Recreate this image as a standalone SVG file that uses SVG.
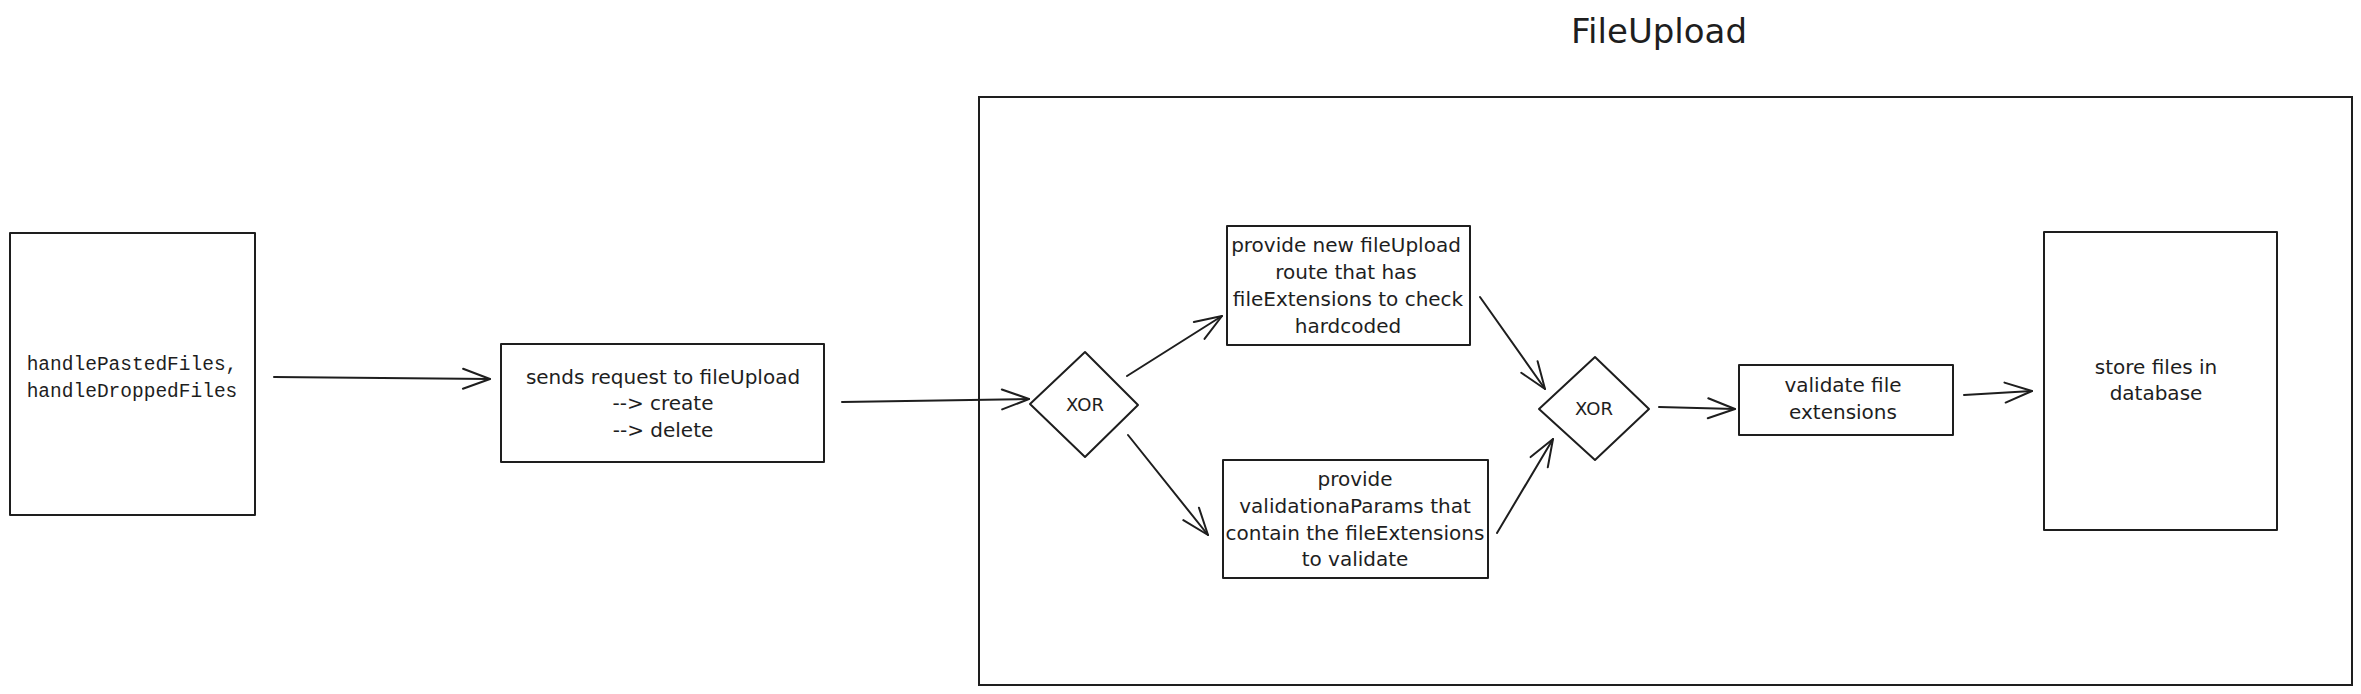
<svg xmlns="http://www.w3.org/2000/svg" width="2361" height="694" viewBox="0 0 2361 694">
  <style>
    .shape { fill: #ffffff; stroke: #1e1e1e; stroke-width: 2; stroke-linejoin: round; }
    .frame { fill: none; stroke: #1e1e1e; stroke-width: 2; }
    .conn { fill: none; stroke: #1e1e1e; stroke-width: 2; stroke-linecap: round; }
    .t { font-family: "DejaVu Sans", "Noto Sans", sans-serif; font-size: 20px; fill: #1e1e1e; text-anchor: middle; }
    .mono { font-family: "Liberation Mono", "DejaVu Sans Mono", monospace; font-size: 19.5px; fill: #1e1e1e; text-anchor: middle; }
    .xor { font-family: "DejaVu Sans", "Noto Sans", sans-serif; font-size: 18px; fill: #1e1e1e; text-anchor: middle; }
    .title { font-family: "DejaVu Sans", "Noto Sans", sans-serif; font-size: 34px; fill: #1e1e1e; text-anchor: middle; }
  </style>
  <defs>
    <marker id="arrow" viewBox="-30 -13 32 26" refX="0" refY="0" markerWidth="32" markerHeight="26" markerUnits="userSpaceOnUse" orient="auto">
      <path d="M -27 -10 L 0 0 L -27 10" fill="none" stroke="#1e1e1e" stroke-width="2" stroke-linecap="round" stroke-linejoin="round"/>
    </marker>
  </defs>
  <rect width="2361" height="694" fill="#ffffff"/>

  <g id="title">
    <text class="title" x="1659" y="43">FileUpload</text>
  </g>

  <g id="frame-fileupload">
    <rect class="frame" x="979" y="97" width="1373" height="588"/>
  </g>

  <g id="node-handlers">
    <rect class="shape" x="10" y="233" width="245" height="282"/>
    <text class="mono" x="132" y="370">handlePastedFiles,</text>
    <text class="mono" x="132" y="397">handleDroppedFiles</text>
  </g>

  <g id="node-sends-request">
    <rect class="shape" x="501" y="344" width="323" height="118"/>
    <text class="t" x="663" y="384">sends request to fileUpload</text>
    <text class="t" x="663" y="410">--&gt; create</text>
    <text class="t" x="663" y="437">--&gt; delete</text>
  </g>

  <g id="node-xor-split">
    <polygon class="shape" points="1030,404 1085,352 1138,405 1085,457"/>
    <text class="xor" x="1085" y="411">XOR</text>
  </g>

  <g id="node-new-route">
    <rect class="shape" x="1227" y="226" width="243" height="119"/>
    <text class="t" x="1346" y="252">provide new fileUpload</text>
    <text class="t" x="1346" y="279">route that has</text>
    <text class="t" x="1348" y="306">fileExtensions to check</text>
    <text class="t" x="1348" y="333">hardcoded</text>
  </g>

  <g id="node-validation-params">
    <rect class="shape" x="1223" y="460" width="265" height="118"/>
    <text class="t" x="1355" y="486">provide</text>
    <text class="t" x="1355" y="513">validationaParams that</text>
    <text class="t" x="1355" y="540">contain the fileExtensions</text>
    <text class="t" x="1355" y="566">to validate</text>
  </g>

  <g id="node-xor-join">
    <polygon class="shape" points="1539,409 1595,357 1649,409 1595,460"/>
    <text class="xor" x="1594" y="415">XOR</text>
  </g>

  <g id="node-validate">
    <rect class="shape" x="1739" y="365" width="214" height="70"/>
    <text class="t" x="1843" y="392">validate file</text>
    <text class="t" x="1843" y="419">extensions</text>
  </g>

  <g id="node-store">
    <rect class="shape" x="2044" y="232" width="233" height="298"/>
    <text class="t" x="2156" y="374">store files in</text>
    <text class="t" x="2156" y="400">database</text>
  </g>

  <g id="connectors">
    <line class="conn" x1="274" y1="377" x2="490" y2="379" marker-end="url(#arrow)"/>
    <line class="conn" x1="842" y1="402" x2="1029" y2="399" marker-end="url(#arrow)"/>
    <line class="conn" x1="1127" y1="376" x2="1222" y2="316" marker-end="url(#arrow)"/>
    <line class="conn" x1="1128" y1="435" x2="1208" y2="535" marker-end="url(#arrow)"/>
    <line class="conn" x1="1480" y1="297" x2="1545" y2="389" marker-end="url(#arrow)"/>
    <line class="conn" x1="1497" y1="533" x2="1553" y2="439" marker-end="url(#arrow)"/>
    <line class="conn" x1="1659" y1="407" x2="1735" y2="409" marker-end="url(#arrow)"/>
    <line class="conn" x1="1964" y1="395" x2="2032" y2="391" marker-end="url(#arrow)"/>
  </g>
</svg>
